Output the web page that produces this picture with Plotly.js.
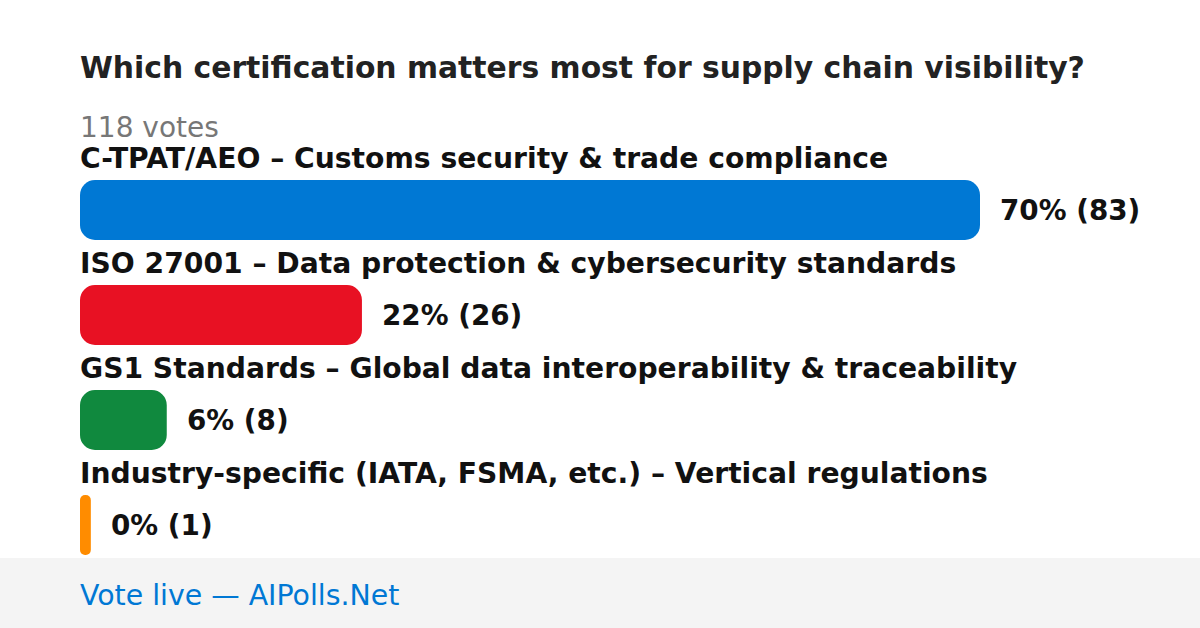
<!DOCTYPE html>
<html><head><meta charset="utf-8">
<script src="https://cdn.plot.ly/plotly-3.0.1.min.js"></script>
<style>html,body{margin:0;padding:0;background:#fff}#chart{width:1200px;height:628px}</style>
</head><body><div id="chart"></div>
<script>
const titleText = "Which certification matters most for supply chain visibility?";
const totalVotes = 118;
const categories = [
  "C-TPAT/AEO – Customs security & trade compliance",
  "ISO 27001 – Data protection & cybersecurity standards",
  "GS1 Standards – Global data interoperability & traceability",
  "Industry-specific (IATA, FSMA, etc.) – Vertical regulations"
];
const votes = [83, 26, 8, 1];
const percents = [70, 22, 6, 0];
const colors = ["#0078d4", "#e81123", "#10893e", "#ff8c00"];
const footerText = "Vote live — AIPolls.Net";

const W = 1200, H = 628;
const ypos = categories.map((c, i) => i);
const FONT = "DejaVu Sans, Verdana, sans-serif";

const trace = {
  type: "bar", orientation: "h",
  x: votes, base: votes.map(() => 0), y: ypos,
  width: 60/105,
  marker: {color: colors, cornerradius: 15, line: {width: 0}},
  hoverinfo: "skip"
};

const annotations = [];
annotations.push({xref:"paper", yref:"paper", x:0, y:1-68/H, xanchor:"left", yanchor:"middle", xshift:-2,
  text:"<b>"+titleText+"</b>", showarrow:false, font:{family:FONT, size:29.8, color:"#222222"}});
annotations.push({xref:"paper", yref:"paper", x:0, y:1-127/H, xanchor:"left", yanchor:"middle", xshift:-2,
  text: totalVotes + " votes", showarrow:false, font:{family:FONT, size:28, color:"#777777"}});
categories.forEach((c, i) => {
  annotations.push({xref:"paper", yref:"y", x:0, y:ypos[i]-0.486, xanchor:"left", yanchor:"middle", xshift:-2,
    text:"<b>"+c+"</b>", showarrow:false, font:{family:FONT, size:28.2, color:"#111111"}});
  annotations.push({xref:"x", yref:"y", x:votes[i], y:ypos[i], xanchor:"left", yanchor:"middle", xshift:18,
    text:"<b>"+percents[i]+"% ("+votes[i]+")</b>", showarrow:false, font:{family:FONT, size:27.8, color:"#111111"}});
});
annotations.push({xref:"paper", yref:"paper", x:0, y:1-595/H, xanchor:"left", yanchor:"middle", xshift:-2,
  text: footerText, showarrow:false, font:{family:FONT, size:28.4, color:"#0078d4"}});

const layout = {
  width: W, height: H,
  margin: {l:80, r:20, t:0, b:0, pad:0},
  paper_bgcolor:"#ffffff", plot_bgcolor:"rgba(0,0,0,0)",
  showlegend:false,
  xaxis: {range:[0, 83*1100/900], visible:false, fixedrange:true},
  yaxis: {range:[(H-210)/105, -210/105], visible:false, fixedrange:true},
  shapes: [{type:"rect", xref:"paper", yref:"paper", x0:-80/1100, x1:1+20/1100, y0:0, y1:1-558/H,
    fillcolor:"#f4f4f4", line:{width:0}, layer:"below"}],
  annotations: annotations
};
Plotly.newPlot("chart", [trace], layout, {displayModeBar:false, staticPlot:true});
</script></body></html>
